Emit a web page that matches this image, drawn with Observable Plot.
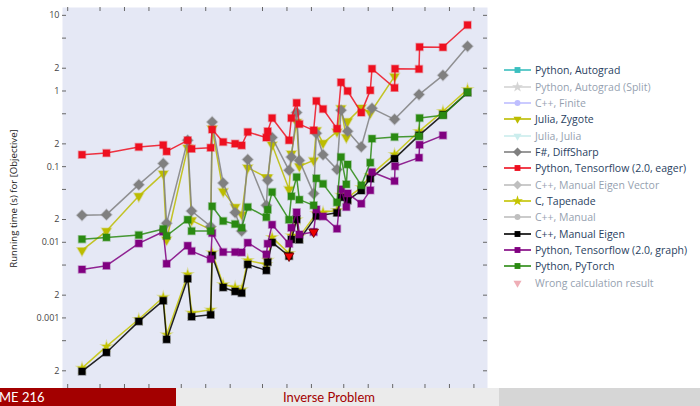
<!DOCTYPE html>
<html><head><meta charset="utf-8">
<script src="https://cdn.jsdelivr.net/npm/d3@7"></script>
<script src="https://cdn.jsdelivr.net/npm/@observablehq/plot@0.6"></script>
<style>
body{margin:0;width:700px;height:406px;overflow:hidden;background:#fff;font-family:"Open Sans",sans-serif;position:relative}
#chart{position:absolute;left:0;top:0}
#ylab{position:absolute;left:-137px;top:192px;width:300px;text-align:center;transform:rotate(-90deg);font-size:9.6px;color:#222;white-space:nowrap}
#legend{position:absolute;left:503px;top:62px}
.row{height:16.35px;display:flex;align-items:center;font-size:10.5px;color:#2a3f5f;white-space:nowrap}
.row svg{margin-right:3px}
#footer{position:absolute;left:0;top:388px;width:700px;height:18px;display:flex;font-family:"Lato",sans-serif;font-size:13px}
#f1{width:176px;background:#a30000;color:#fff;line-height:18px;text-indent:-1px}
#f2{width:323px;background:#ebebeb;color:#a30000;line-height:18px;text-indent:107px}
#f3{flex:1;background:#d6d6d6}
</style></head>
<body>
<div id="chart"></div>
<div id="ylab">Running time (s) for [Objective]</div>
<div id="legend"></div>
<div id="footer"><div id="f1">ME 216</div><div id="f2">Inverse Problem</div><div id="f3"></div></div>
<script>
// ---- data ----
const xValues = [3, 6, 15, 30, 33, 60, 67, 115, 120, 164, 230, 277, 329, 558, 579, 656, 1061, 1133, 1316, 1421, 2130, 2300, 2780, 4130, 4630, 5380, 5580, 8220, 10600, 11140, 21100, 21400, 42200, 42900, 83200, 167000];
const zygote = [0.00781, 0.01406, 0.0408, 0.0808, 0.0108, 0.178, 0.0195, 0.0147, 0.318, 0.0471, 0.0292, 0.0234, 0.097, 0.072, 0.072, 0.195, 0.0501, 0.1486, 0.389, 0.101, 0.121, 0.302, 0.205, 0.29, 0.59, 0.244, 0.397, 0.60, 0.512, null, 1.56, null, null, null, null, null];
const diffSharp = [0.0227, 0.0232, 0.0578, 0.110, 0.0178, 0.223, 0.0259, 0.0162, 0.389, 0.0607, 0.0247, 0.01406, 0.124, 0.0308, 0.0659, 0.242, 0.0893, 0.134, 0.518, 0.121, 0.044, 0.276, 0.144, 0.092, 0.556, null, 0.293, 0.183, null, 0.590, 0.422, null, 0.896, null, 1.61, 3.90];
const tfEager = [0.144, 0.151, 0.182, 0.193, 0.159, 0.223, 0.172, 0.178, 0.309, 0.212, 0.201, 0.191, 0.287, 0.242, 0.293, 0.439, 0.223, 0.439, 0.698, 0.365, 0.302, 0.738, 0.578, 0.318, 1.30, null, 1.0, 0.518, 1.02, 1.97, 1.10, 1.97, 1.95, 3.82, 3.78, 7.46];
const tapenade = [0.000217, 0.00042, 0.00096, 0.00188, 0.0006, 0.00376, 0.00117, 0.00128, 0.00728, 0.00277, 0.00255, 0.00236, 0.00576, 0.0051, 0.0058, 0.0116, 0.00713, 0.0123, 0.02, 0.0119, null, 0.0241, 0.0249, 0.0264, 0.042, null, 0.039, 0.0532, 0.0767, null, 0.1455, null, 0.293, null, 0.539, 1.05];
const manualEigen = [0.000196, 0.00035, 0.0009, 0.00169, 0.00052, 0.0033, 0.00104, 0.0011, 0.00671, 0.00253, 0.00224, 0.00213, 0.0051, 0.00425, 0.00547, 0.00997, 0.00657, 0.0109, 0.0201, 0.0108, null, 0.0222, null, 0.0245, 0.0393, null, 0.0358, 0.0483, 0.0694, null, 0.1276, null, 0.259, null, 0.487, 0.953];
const tfGraph = [0.00438, 0.0049, 0.00967, 0.0138, 0.00521, 0.00902, 0.00765, 0.0060, 0.01324, 0.00742, 0.00742, 0.00735, 0.00988, 0.00692, 0.00958, 0.0171, 0.00958, 0.0156, 0.0249, 0.0127, 0.0137, 0.0272, 0.022, 0.0151, 0.0501, 0.0292, 0.0443, 0.0324, 0.0486, 0.0849, 0.0645, 0.101, 0.1315, 0.195, 0.259, null];
const pyTorch = [0.0110, 0.0116, 0.01245, 0.0150, 0.0122, 0.0199, 0.01406, 0.01406, 0.0299, 0.0191, 0.0174, 0.0156, 0.0292, 0.0215, 0.027, 0.0461, 0.0199, 0.0405, 0.0728, 0.0366, 0.0308, 0.070, 0.0592, 0.0337, 0.134, 0.0583, 0.107, 0.0566, 0.113, 0.2345, 0.2465, null, 0.252, 0.4395, 0.477, 0.96];
const wrongX = [1061, 2130];
const wrongY = [0.0066, 0.0137];
const yTicks = [10, 5, 2, 1, 0.5, 0.2, 0.1, 0.05, 0.02, 0.01, 0.005, 0.002, 0.001, 0.0005, 0.0002];
const yTickLabels = ["10", "5", "2", "1", "5", "2", "0.1", "5", "2", "0.01", "5", "2", "0.001", "5", "2"];
const xTicks = [2, 5, 10, 20, 50, 100, 200, 500, 1000, 2000, 5000, 10000, 20000, 50000, 100000, 200000];
const legendNames = ["Python, Autograd", "Python, Autograd (Split)", "C++, Finite", "Julia, Zygote", "Julia, Julia", "F#, DiffSharp", "Python, Tensorflow (2.0, eager)", "C++, Manual Eigen Vector", "C, Tapenade", "C++, Manual", "C++, Manual Eigen", "Python, Tensorflow (2.0, graph)", "Python, PyTorch", "Wrong calculation result"];

// ---- styles ----
const styles = [
  {color:"#3bbfbf", sym:"square", rot:0, on:true, data:null},
  {color:"#aaaaaa", sym:"star", rot:0, on:false, data:null},
  {color:"#7f7fff", sym:"circle", rot:0, on:false, data:null},
  {color:"#bcbc00", sym:"triangle", rot:180, on:true, data:zygote},
  {color:"#99dddd", sym:"triangle", rot:180, on:false, data:null},
  {color:"#808080", sym:"square", rot:45, on:true, data:diffSharp},
  {color:"#ee1020", sym:"square", rot:0, on:true, data:tfEager},
  {color:"#808080", sym:"square", rot:45, on:false, data:null},
  {color:"#c4c400", sym:"star", rot:0, on:true, data:tapenade},
  {color:"#808080", sym:"circle", rot:0, on:false, data:null},
  {color:"#000000", sym:"square", rot:0, on:true, data:manualEigen},
  {color:"#800080", sym:"square", rot:0, on:true, data:tfGraph},
  {color:"#2a8a12", sym:"square", rot:0, on:true, data:pyTorch},
  {color:"#e06070", sym:"triangle", rot:180, on:false, data:null, noLine:true}
];
const rFor = s => s.sym === "square" ? (s.rot ? 4.2 : 3.9) : s.sym === "star" ? 3.0 : 3.5;

const W = 700, H = 388, mL = 62, mR = 213, mT = 7, mB = 0;
const fw = W - mL - mR, fh = H - mT - mB;
const labelMap = new Map(yTicks.map((t, i) => [t, yTickLabels[i]]));

const marks = [Plot.frame({fill:"#e5e8f5", stroke:null})];
styles.forEach(s => {
  if (!s.data) return;
  const pts = xValues.map((x, i) => ({x, y: s.data[i]})).filter(d => d.y != null);
  marks.push(Plot.line(pts, {x:"x", y:"y", stroke:s.color, strokeWidth:1.5, strokeOpacity:0.85}));
  marks.push(Plot.dot(pts, {x:"x", y:"y", symbol:s.sym, rotate:s.rot, r:rFor(s), fill:s.color, stroke:s.color, strokeOpacity:0.35, strokeWidth:1.6}));
});
const wrong = wrongX.map((x, i) => ({x, y: wrongY[i]}));
marks.push(Plot.dot(wrong, {x:"x", y:"y", symbol:"triangle", rotate:180, r:3.6, fill:"#ee0000", stroke:"#600", strokeWidth:0.8}));
marks.push(Plot.tickY(yTicks, {y:d=>d, stroke:"#666", insetRight:fw-4}));
marks.push(Plot.tickY(yTicks, {y:d=>d, stroke:"#666", insetLeft:fw-4}));
marks.push(Plot.tickX(xTicks, {x:d=>d, stroke:"#666", insetBottom:fh-4}));
marks.push(Plot.tickX(xTicks, {x:d=>d, stroke:"#666", insetTop:fh-4}));
marks.push(Plot.axisY(yTicks, {tickSize:0, tickPadding:3, tickFormat:d=>labelMap.get(d), label:null, fill:"#444", fontSize:9}));

const chart = Plot.plot({
  width:W, height:H, marginLeft:mL, marginRight:mR, marginTop:mT, marginBottom:mB,
  style:{fontFamily:"Open Sans", fontSize:"9px", background:"transparent"},
  x:{type:"log", domain:[1.726, 2.94e5], axis:null},
  y:{type:"log", domain:[1.167e-4, 12.7], axis:null},
  marks
});
document.getElementById("chart").appendChild(chart);

// ---- legend ----
const leg = d3.select("#legend");
legendNames.forEach((name, i) => {
  const s = styles[i];
  const row = leg.append("div").attr("class","row").style("opacity", s.on ? 1 : 0.5);
  const svg = row.append("svg").attr("width",29).attr("height",16);
  if (!s.noLine) svg.append("line").attr("x1",1).attr("x2",28).attr("y1",8).attr("y2",8).attr("stroke",s.color).attr("stroke-width",1.6);
  const symType = {square:d3.symbolSquare, star:d3.symbolStar, circle:d3.symbolCircle, triangle:d3.symbolTriangle}[s.sym];
  const r = s.sym === "star" ? 3.4 : rFor(s) * 0.85;
  svg.append("path").attr("d", d3.symbol(symType, Math.PI*r*r)()).attr("transform",`translate(14.5,8) rotate(${s.rot})`).attr("fill",s.color);
  row.append("span").text(name);
});
</script>
</body></html>
